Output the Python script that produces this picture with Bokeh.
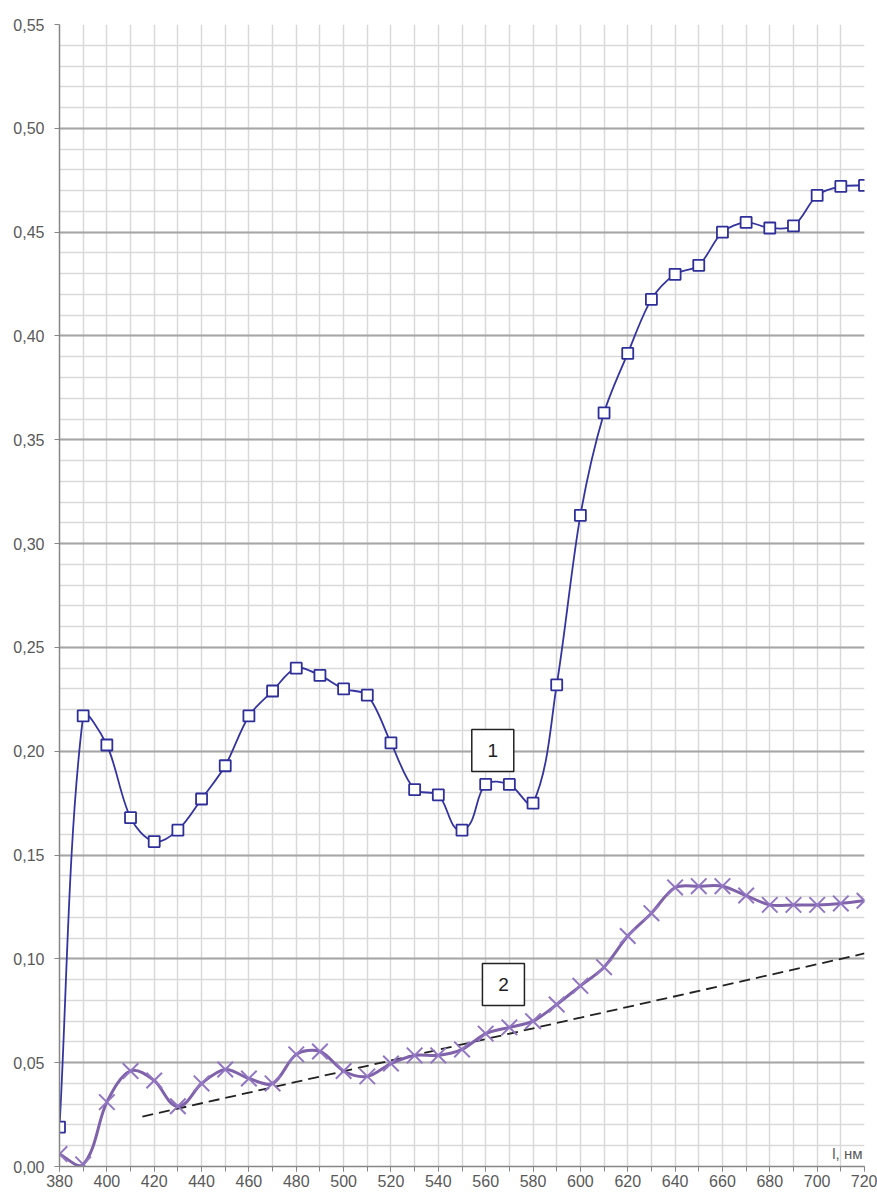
import math
from bokeh.plotting import figure
from bokeh.models import FixedTicker, Label
from bokeh.core.properties import value
from bokeh.embed import file_html
from bokeh.resources import INLINE

wavelength = list(range(380, 721, 10))
series1 = [0.019, 0.217, 0.203, 0.168, 0.1565, 0.162, 0.177, 0.193, 0.217, 0.229,
           0.240, 0.2365, 0.230, 0.227, 0.204, 0.1815, 0.179, 0.162, 0.184, 0.184,
           0.175, 0.232, 0.3136, 0.363, 0.3916, 0.4176, 0.4297, 0.434, 0.450, 0.4547,
           0.452, 0.453, 0.4677, 0.472, 0.4725]
series2 = [0.006, 0.001, 0.031, 0.046, 0.0414, 0.029, 0.040, 0.0467, 0.0424, 0.040,
           0.054, 0.0554, 0.046, 0.0434, 0.0496, 0.0535, 0.0535, 0.0564, 0.064, 0.067,
           0.070, 0.078, 0.087, 0.096, 0.111, 0.122, 0.1344, 0.135, 0.135, 0.1305,
           0.126, 0.126, 0.126, 0.1267, 0.128]
trend_x = [415, 720]
trend_y = [0.024, 0.1026]
x_ticks = list(range(380, 721, 20))
y_ticks = [i * 0.05 for i in range(12)]
y_tick_labels = ["0,00", "0,05", "0,10", "0,15", "0,20", "0,25", "0,30", "0,35",
                 "0,40", "0,45", "0,50", "0,55"]
curve_labels = ["1", "2"]
label_x = [563, 567.5]
label_y = [0.2004, 0.0877]

FONT = "Liberation Sans"
GRAY = "#595959"
FRAME_W, FRAME_H = 805, 1142
X0, X1, Y0, Y1 = 380, 720, 0.0, 0.55
SX = FRAME_W / (X1 - X0)
SY = FRAME_H / (Y1 - Y0)


def bezier_segments(xs, ys, f=0.3):
    """Excel-like smoothing: tangent from neighbours, arms scaled by segment length (screen space)."""
    n = len(xs)
    px = [x * SX for x in xs]
    py = [y * SY for y in ys]
    tangents = []
    for i in range(n):
        a = max(i - 1, 0)
        b = min(i + 1, n - 1)
        dx, dy = px[b] - px[a], py[b] - py[a]
        L = math.hypot(dx, dy) or 1.0
        tangents.append((dx / L, dy / L))
    out = {k: [] for k in ("x0", "y0", "x1", "y1", "cx0", "cy0", "cx1", "cy1")}
    for i in range(n - 1):
        seg = math.hypot(px[i + 1] - px[i], py[i + 1] - py[i])
        t0, t1 = tangents[i], tangents[i + 1]
        c0x = px[i] + t0[0] * seg * f
        c0y = py[i] + t0[1] * seg * f
        c1x = px[i + 1] - t1[0] * seg * f
        c1y = py[i + 1] - t1[1] * seg * f
        out["x0"].append(xs[i]); out["y0"].append(ys[i])
        out["x1"].append(xs[i + 1]); out["y1"].append(ys[i + 1])
        out["cx0"].append(c0x / SX); out["cy0"].append(c0y / SY)
        out["cx1"].append(c1x / SX); out["cy1"].append(c1y / SY)
    return out


p = figure(width=877, height=1196, output_backend="svg", toolbar_location=None,
           x_range=(X0, X1), y_range=(Y0, Y1),
           min_border_left=59, min_border_right=13, min_border_top=24, min_border_bottom=30)
p.outline_line_color = None
p.background_fill_color = "white"

# grids
p.xgrid.ticker = FixedTicker(ticks=list(range(380, 721, 10)))
p.xgrid.grid_line_color = "#d9d9d9"
p.xgrid.grid_line_width = 1.5
p.ygrid.ticker = FixedTicker(ticks=y_ticks, minor_ticks=[i * 0.01 for i in range(56)])
p.ygrid.grid_line_color = "#a6a6a6"
p.ygrid.grid_line_width = 2
p.ygrid.minor_grid_line_color = "#d9d9d9"
p.ygrid.minor_grid_line_width = 1.5

# axes
p.xaxis.ticker = FixedTicker(ticks=x_ticks, minor_ticks=list(range(380, 721, 10)))
p.yaxis.ticker = FixedTicker(ticks=y_ticks)
p.yaxis.major_label_overrides = {t: l for t, l in zip(y_ticks, y_tick_labels)}
for ax in (p.xaxis[0], p.yaxis[0]):
    ax.axis_line_color = "#868686"
    ax.axis_line_width = 1.5
    ax.major_tick_line_color = "#868686"
    ax.minor_tick_line_color = "#868686"
    ax.major_tick_in = 0
    ax.major_tick_out = 5
    ax.minor_tick_in = 0
    ax.major_label_text_font = FONT
    ax.major_label_text_font_size = "16px"
    ax.major_label_text_color = GRAY
p.xaxis.minor_tick_out = 5
p.yaxis.minor_tick_out = 0
p.xaxis.major_label_standoff = 3
p.yaxis.major_label_standoff = 10

# trend line
p.line(trend_x, trend_y, line_color="#222222", line_width=1.8, line_dash="11 6")

# series 2 (purple)
s2 = bezier_segments(wavelength, series2)
p.bezier(**s2, line_color="#7f62aa", line_width=3)
p.scatter(wavelength, series2, marker="x", size=22, line_color="#9276c2", line_width=2)

# series 1 (blue)
s1 = bezier_segments(wavelength, series1)
p.bezier(**s1, line_color="#3434a0", line_width=1.8)
p.scatter(wavelength, series1, marker="square", size=11, line_color="#2f2f9a",
          fill_color="white", line_width=1.8)

# numbered boxes
p.rect(label_x, label_y, width=42, height=42, width_units="screen", height_units="screen",
       fill_color="white", line_color="#222222", line_width=1.5)
p.text(label_x, label_y, text=curve_labels, text_align="center", text_baseline="middle",
       text_font=value(FONT), text_font_size="19px", text_color="#222222")

# axis titles
p.add_layout(Label(x=380, y=0.55, x_offset=-4, y_offset=1, text="R, отн. ед.",
                   text_font=FONT, text_font_size="15px", text_color=GRAY,
                   text_baseline="bottom", text_align="left"))
p.add_layout(Label(x=720, y=0, x_offset=-2, y_offset=5, text="l, нм",
                   text_font=FONT, text_font_size="15px", text_color=GRAY,
                   text_baseline="bottom", text_align="right"))

open("out.html", "w").write(file_html(p, INLINE))
